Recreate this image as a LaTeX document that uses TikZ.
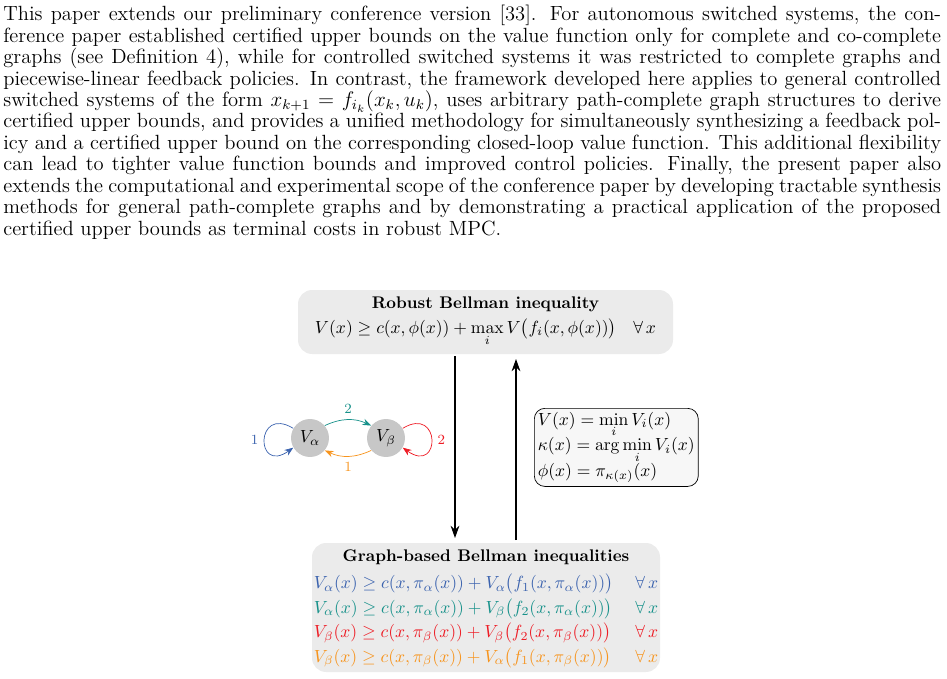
\documentclass[tikz,border=0pt]{standalone}
\usepackage{amsmath,amssymb}
\usetikzlibrary{arrows.meta}
\definecolor{cblue}{HTML}{3A62AE}
\definecolor{cteal}{HTML}{17918A}
\definecolor{cred}{HTML}{EE1C25}
\definecolor{corange}{HTML}{F7941D}
\definecolor{boxgray}{HTML}{EBEBEB}
\begin{document}
\begin{tikzpicture}[x=0.02cm,y=-0.02cm,
  gbox/.style={fill=boxgray,rounded corners=8pt},
  dtext/.style={font=\fontsize{9.6}{11.5}\selectfont,inner sep=1pt},
  vnode/.style={circle,fill=black!22,minimum size=0.76cm,inner sep=0pt,font=\fontsize{9.6}{11.5}\selectfont},
  lab/.style={font=\footnotesize},
  garr/.style={-{Stealth[length=5pt]},thin},
  bigarr/.style={-{Stealth[length=7pt,width=5pt]},semithick}]
\useasboundingbox (0,0) rectangle (947,679);
\node[anchor=north west,inner sep=0pt] (para) at (3,5) {\parbox{18.76cm}{\fontsize{11.7}{12.2}\selectfont\setlength{\parindent}{0pt}This paper extends our preliminary conference version [33]. For autonomous switched systems, the conference paper established certified upper bounds on the value function only for complete and co-complete graphs (see Definition 4), while for controlled switched systems it was restricted to complete graphs and piecewise-linear feedback policies. In contrast, the framework developed here applies to general controlled switched systems of the form $x_{k+1}=f_{i_k}(x_k,u_k)$, uses arbitrary path-complete graph structures to derive certified upper bounds, and provides a unified methodology for simultaneously synthesizing a feedback policy and a certified upper bound on the corresponding closed-loop value function. This additional flexibility can lead to tighter value function bounds and improved control policies. Finally, the present paper also extends the computational and experimental scope of the conference paper by developing tractable synthesis methods for general path-complete graphs and by demonstrating a practical application of the proposed certified upper bounds as terminal costs in robust MPC.}};
\fill[gbox] (298,290) rectangle (673,354);
\node[dtext] (rtitle) at (485.5,304) {\textbf{Robust Bellman inequality}};
\node[dtext] (req) at (485.5,332) {$V(x)\geq c(x,\phi(x))+\max\limits_i V\bigl(f_i(x,\phi(x))\bigr)\quad\forall\,x$};
\fill[gbox] (312,543) rectangle (660,672);
\node[dtext] (gtitle) at (486,557) {\textbf{Graph-based Bellman inequalities}};
\node[dtext,anchor=north] (geq) at (486,569) {\renewcommand{\arraystretch}{1.22}\begin{tabular}{@{}l@{\quad\ }r@{}}
\color{cblue}$V_\alpha(x)\geq c(x,\pi_\alpha(x))+V_\alpha\bigl(f_1(x,\pi_\alpha(x))\bigr)$ & \color{cblue}$\forall\,x$\\
\color{cteal}$V_\alpha(x)\geq c(x,\pi_\alpha(x))+V_\beta\bigl(f_2(x,\pi_\alpha(x))\bigr)$ & \color{cteal}$\forall\,x$\\
\color{cred}$V_\beta(x)\geq c(x,\pi_\beta(x))+V_\beta\bigl(f_2(x,\pi_\beta(x))\bigr)$ & \color{cred}$\forall\,x$\\
\color{corange}$V_\beta(x)\geq c(x,\pi_\beta(x))+V_\alpha\bigl(f_1(x,\pi_\beta(x))\bigr)$ & \color{corange}$\forall\,x$
\end{tabular}};
\coordinate (d1) at (455,356);
\coordinate (d2) at (455,538);
\coordinate (u1) at (516,540);
\coordinate (u2) at (516,359);
\draw[bigarr] (d1) -- (d2);
\draw[bigarr] (u1) -- (u2);
\node[draw,rounded corners=6pt,fill=black!3,align=left,inner sep=2pt,anchor=north west,font=\fontsize{9.6}{11.5}\selectfont] (pol) at (534,408)
 {$V(x)=\min\limits_i V_i(x)$\\[-1pt]$\kappa(x)=\arg\min\limits_i V_i(x)$\\[-1pt]$\phi(x)=\pi_{\kappa(x)}(x)$};
\node[vnode] (va) at (310,438) {$V_\alpha$};
\node[vnode] (vb) at (386,438) {$V_\beta$};
\draw[garr,cblue] (va.150) .. controls (255,405) and (255,475) .. node[lab,left,pos=0.5]{1} (va.210);
\draw[garr,cred] (vb.30) .. controls (441,405) and (441,475) .. node[lab,right,pos=0.5]{2} (vb.330);
\draw[garr,cteal] (va.40) to[bend left=25] node[lab,above]{2} (vb.140);
\draw[garr,corange] (vb.220) to[bend left=25] node[lab,below]{1} (va.320);
\end{tikzpicture}
\end{document}
